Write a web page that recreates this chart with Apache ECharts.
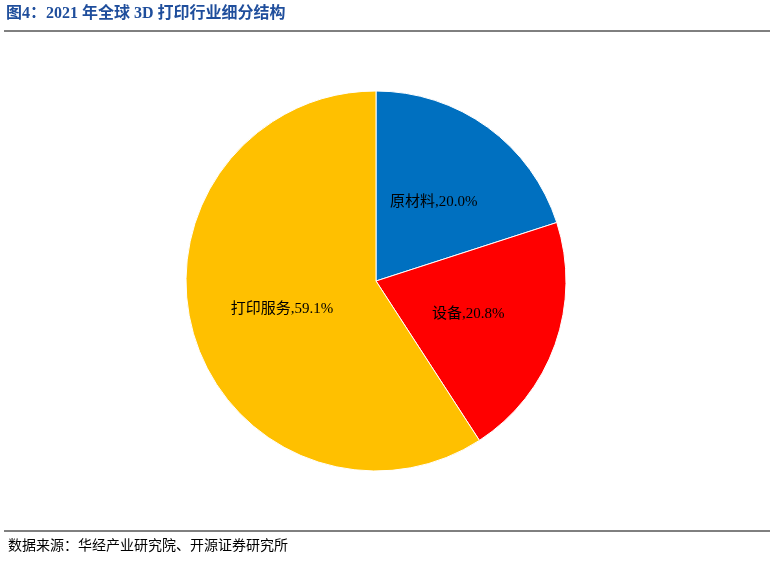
<!DOCTYPE html>
<html>
<head>
<meta charset="utf-8">
<script src="https://cdn.jsdelivr.net/npm/echarts@6/dist/echarts.min.js"></script>
<style>
  html, body { margin: 0; padding: 0; background: #fff; }
  #chart { width: 774px; height: 561px; }
</style>
</head>
<body>
<div id="chart"></div>
<script>
// 细分结构数据
var names = ["原材料", "设备", "打印服务"];
var values = [20.0, 20.8, 59.1];
var colors = ["#0070C0", "#FF0000", "#FFC000"];

var chart = echarts.init(document.getElementById("chart"));
var font = '"Liberation Serif", "Noto Sans CJK SC", serif';

chart.setOption({
  backgroundColor: "#fff",
  graphic: [
    { type: "text", left: 6, top: 6,
      style: { text: "图4：2021 年全球 3D 打印行业细分结构", fill: "#1F4E9C",
               font: 'bold 16px ' + font } },
    { type: "line", shape: { x1: 4, y1: 31, x2: 770, y2: 31 },
      style: { stroke: "#000", lineWidth: 1 } },
    { type: "line", shape: { x1: 4, y1: 531, x2: 770, y2: 531 },
      style: { stroke: "#000", lineWidth: 1 } },
    { type: "text", left: 8, top: 539,
      style: { text: "数据来源：华经产业研究院、开源证券研究所", fill: "#000",
               font: '14px ' + font } }
  ],
  series: [{
    type: "pie",
    center: [376, 281],
    radius: 190,
    startAngle: 90,
    clockwise: true,
    silent: true,
    itemStyle: { borderColor: "#fff", borderWidth: 1 },
    label: {
      position: "inside",
      color: "#000",
      fontSize: 15,
      fontFamily: font,
      formatter: function (p) { return p.name + "," + p.value.toFixed(1) + "%"; }
    },
    data: names.map(function (n, i) {
      return { name: n, value: values[i], itemStyle: { color: colors[i] } };
    })
  }]
});
</script>
</body>
</html>
